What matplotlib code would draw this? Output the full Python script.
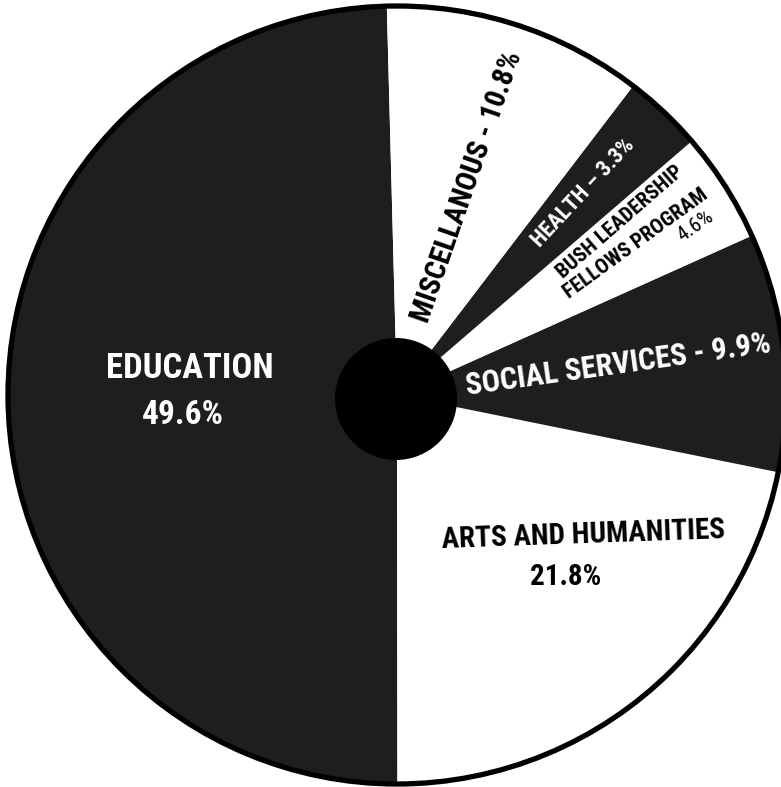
import os
import matplotlib.pyplot as plt
from matplotlib.patches import Circle
from matplotlib import font_manager

# grant shares (percent), drawn counter-clockwise from the top
labels = ['EDUCATION', 'ARTS AND HUMANITIES', 'SOCIAL SERVICES',
          'BUSH LEADERSHIP FELLOWS PROGRAM', 'HEALTH', 'MISCELLANOUS']
shares = [49.6, 21.8, 9.9, 4.6, 3.3, 10.8]
dark = '#1e1e1e'
colors = [dark, 'white', dark, 'white', dark, 'white']

# the original uses a bold condensed sans; take one if the box has it
def pick_font():
    files = [f.fname for f in font_manager.fontManager.ttflist]
    for key in ['RobotoCondensed-Bold', 'LiberationSansNarrow-Bold',
                'NotoSans-CondensedBold', 'DejaVuSansCondensed-Bold',
                'OpenSans_Condensed-Bold', 'OpenSansCondensed-Bold']:
        for fn in files:
            if os.path.basename(fn).startswith(key):
                return fn
    for fn in files:
        b = os.path.basename(fn)
        if ('Condensed' in b or 'Narrow' in b) and 'Bold' in b \
                and 'Italic' not in b and 'Semi' not in b and 'Extra' not in b:
            return fn
    return None

ffile = pick_font()
ffile_reg = None
if ffile:
    cand = ffile.replace('CondensedBold', 'Condensed').replace('Bold', 'Regular')
    if os.path.exists(cand):
        ffile_reg = cand

W, H = 781, 787
fig = plt.figure(figsize=(W / 100, H / 100), dpi=100)
ax = fig.add_axes([0, 0, 1, 1])

def px(x, y):
    # image pixel -> data coords (y up)
    return x, H - y

cx, cy = px(397, 395)
R = 389
ax.pie(shares, colors=colors, startangle=91.5, counterclock=True,
       center=(cx, cy), radius=R, wedgeprops=dict(linewidth=0))
ax.add_patch(Circle((cx, cy), R, fill=False, ec='black', lw=3.8, zorder=3))
ax.add_patch(Circle(px(396, 399), 61, fc='black', ec='none', zorder=4))

ax.set_xlim(0, W)
ax.set_ylim(0, H)
ax.set_aspect('auto')
ax.axis('off')

def label(x, y, s, color, size, rot=0, light=False):
    f = ffile_reg if (light and ffile_reg) else ffile
    if f:
        fp = font_manager.FontProperties(fname=f, size=size)
    else:
        fp = font_manager.FontProperties(family='Roboto', weight='bold',
                                         size=size * 0.9)
    ax.text(*px(x, y), s, color=color, fontproperties=fp, rotation=rot,
            ha='center', va='center', rotation_mode='anchor', zorder=5)

label(190, 369, 'EDUCATION', 'white', 25)
label(183, 415, '49.6%', 'white', 24)
label(583, 535, 'ARTS AND HUMANITIES', 'black', 21, 2)
label(566, 577, '21.8%', 'black', 21)
label(618, 365, 'SOCIAL SERVICES - 9.9%', 'white', 22, 8)
label(467, 187, 'MISCELLANOUS - 10.8%', 'black', 21, 70.8)
label(583, 193, 'HEALTH \u2013 3.3%', 'white', 16, 47)
label(620, 222, 'BUSH LEADERSHIP', 'black', 15, 41)
label(636, 244, 'FELLOWS PROGRAM', 'black', 15, 36)
label(695, 226, '4.6%', 'black', 15, 35, light=True)

fig.savefig('out.png', dpi=100, facecolor='white')
